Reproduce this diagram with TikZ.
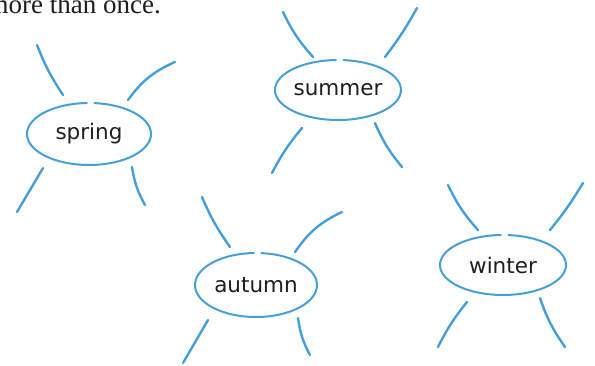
\documentclass[tikz,border=0pt]{standalone}
\usepackage{fontspec}
\setmainfont{DejaVu Sans}
\newfontfamily\bookserif{Liberation Serif}
\usetikzlibrary{shapes.geometric}
\definecolor{sky}{RGB}{70,160,215}
\definecolor{ink}{RGB}{30,30,30}
\begin{document}
\begin{tikzpicture}[x=1pt,y=-1pt,
  bubble/.style={ellipse, inner sep=0pt,
    font=\fontsize{21.5}{24}\selectfont, text=ink},
  rim/.style={draw=sky, line width=2pt, line cap=round},
  leg/.style={draw=sky, line width=2.4pt, line cap=round}]
\useasboundingbox (0,0) rectangle (595,366);
\clip (0,0) rectangle (595,366);
% partial heading line
\node[anchor=base east, inner sep=0pt, font=\bookserif\fontsize{27}{30}\selectfont, text=ink] (head) at (161,14) {more than once.};
% bubbles
\node[bubble, minimum width=124pt, minimum height=62pt] (spring) at (89,134) {spring};
\node[bubble, minimum width=126pt, minimum height=60pt] (summer) at (338,90) {summer};
\node[bubble, minimum width=122pt, minimum height=64pt] (autumn) at (256,285) {autumn};
\node[bubble, minimum width=126pt, minimum height=60pt] (winter) at (503,265) {winter};
% hand-drawn rims with a small gap near the top
\draw[rim] (spring.center) ++(275:62 and 31) arc[start angle=275, end angle=628, x radius=62, y radius=31];
\draw[rim] (summer.center) ++(275:63 and 30) arc[start angle=275, end angle=628, x radius=63, y radius=30];
\draw[rim] (autumn.center) ++(275:61 and 32) arc[start angle=275, end angle=628, x radius=61, y radius=32];
\draw[rim] (winter.center) ++(275:63 and 30) arc[start angle=275, end angle=628, x radius=63, y radius=30];
% spring legs
\coordinate (s1a) at (37,45);  \coordinate (s1b) at (63,95);
\coordinate (s2a) at (175,62); \coordinate (s2b) at (128,100);
\coordinate (s3a) at (43,168); \coordinate (s3b) at (17,212);
\coordinate (s4a) at (132,167);\coordinate (s4b) at (145,205);
\draw[leg] (s1a) to[bend right=6] (s1b);
\draw[leg] (s2a) to[bend right=15] (s2b);
\draw[leg] (s3a) to (s3b);
\draw[leg] (s4a) to[bend right=10] (s4b);
% summer legs
\coordinate (u1a) at (283,12);  \coordinate (u1b) at (313,57);
\coordinate (u2a) at (417,8);   \coordinate (u2b) at (385,57);
\coordinate (u3a) at (302,128); \coordinate (u3b) at (272,173);
\coordinate (u4a) at (375,123); \coordinate (u4b) at (402,167);
\draw[leg] (u1a) to[bend right=8] (u1b);
\draw[leg] (u2a) to[bend left=4] (u2b);
\draw[leg] (u3a) to[bend right=6] (u3b);
\draw[leg] (u4a) to[bend right=8] (u4b);
% autumn legs
\coordinate (a1a) at (202,197); \coordinate (a1b) at (230,247);
\coordinate (a2a) at (342,212); \coordinate (a2b) at (295,252);
\coordinate (a3a) at (208,320); \coordinate (a3b) at (183,363);
\coordinate (a4a) at (298,318); \coordinate (a4b) at (310,355);
\draw[leg] (a1a) to[bend right=6] (a1b);
\draw[leg] (a2a) to[bend right=15] (a2b);
\draw[leg] (a3a) to (a3b);
\draw[leg] (a4a) to[bend right=10] (a4b);
% winter legs
\coordinate (w1a) at (448,185); \coordinate (w1b) at (478,230);
\coordinate (w2a) at (583,183); \coordinate (w2b) at (550,230);
\coordinate (w3a) at (467,302); \coordinate (w3b) at (438,347);
\coordinate (w4a) at (540,298); \coordinate (w4b) at (565,347);
\draw[leg] (w1a) to[bend right=8] (w1b);
\draw[leg] (w2a) to[bend left=4] (w2b);
\draw[leg] (w3a) to[bend right=6] (w3b);
\draw[leg] (w4a) to[bend right=8] (w4b);
\end{tikzpicture}
\end{document}
